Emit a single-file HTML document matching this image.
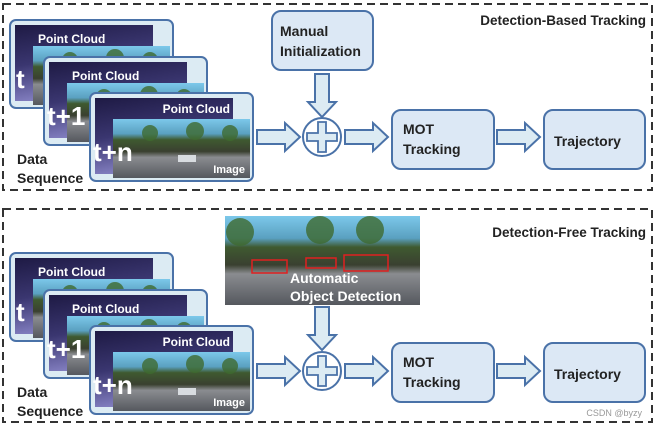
<!DOCTYPE html>
<html><head><style>
html,body{margin:0;padding:0;background:#fff;}
svg{display:block;font-family:"Liberation Sans",sans-serif;}
text{font-weight:bold;}
</style></head><body>
<svg width="658" height="428" viewBox="0 0 658 428" xmlns="http://www.w3.org/2000/svg">
<defs>
<linearGradient id="pc" x1="0" y1="0" x2="0.3" y2="1">
<stop offset="0" stop-color="#1e1a44"/><stop offset="0.5" stop-color="#3a3670"/><stop offset="1" stop-color="#8a86c8"/>
</linearGradient>
<linearGradient id="ph" x1="0" y1="0" x2="0" y2="1">
<stop offset="0" stop-color="#7cc8ea"/><stop offset="0.25" stop-color="#5aa0c0"/><stop offset="0.35" stop-color="#3f5a30"/><stop offset="0.55" stop-color="#3a4030"/><stop offset="0.65" stop-color="#8a8c90"/><stop offset="1" stop-color="#55585e"/>
</linearGradient>
<g id="fr">
<rect x="0" y="0" width="163" height="88" rx="6" fill="#dcebf3" stroke="#4a72a8" stroke-width="2"/>
<rect x="5" y="5" width="138" height="76" fill="url(#pc)"/>
<rect x="23" y="26" width="137" height="59" fill="url(#ph)"/>
<circle cx="60" cy="40" r="8" fill="#3f6a30" opacity="0.8"/><circle cx="105" cy="38" r="9" fill="#3f6a30" opacity="0.8"/><circle cx="140" cy="40" r="8" fill="#3f6a30" opacity="0.8"/>
<rect x="88" y="62" width="18" height="7" fill="#d8dce0"/>
</g>
<g id="arR"><path d="M0,-7 H28 V-14 L43,0 L28,14 V7 H0 Z" fill="#dcebf3" stroke="#4a72a8" stroke-width="2"/></g>
<g id="arD"><path d="M-7,0 V28 H-14 L0,43 L14,28 H7 V0 Z" fill="#dcebf3" stroke="#4a72a8" stroke-width="2"/></g>
<g id="plus"><circle r="19" fill="#fff" stroke="#4a72a8" stroke-width="2"/>
<path d="M-4,-15 H4 V-4 H15 V4 H4 V15 H-4 V4 H-15 V-4 H-4 Z" fill="#dcebf3" stroke="#4a72a8" stroke-width="1.8"/></g>
</defs>

<rect x="3" y="4" width="649" height="186" fill="none" stroke="#333" stroke-width="2" stroke-dasharray="8,5"/>
<rect x="3" y="209" width="649" height="213" fill="none" stroke="#333" stroke-width="2" stroke-dasharray="8,5"/>

<!-- top panel -->
<g transform="translate(10,20)"><use href="#fr"/><text x="28" y="23" fill="#fff" font-size="12">Point Cloud</text><text x="6" y="68" fill="#fff" font-size="26">t</text></g>
<g transform="translate(44,57)"><use href="#fr"/><text x="28" y="23" fill="#fff" font-size="12">Point Cloud</text><text x="3" y="68" fill="#fff" font-size="26">t+1</text></g>
<g transform="translate(90,93)"><use href="#fr"/><text x="140" y="20" fill="#fff" font-size="12" text-anchor="end">Point Cloud</text><text x="3" y="68" fill="#fff" font-size="26">t+n</text><text x="155" y="80" fill="#fff" font-size="11" text-anchor="end">Image</text></g>
<text x="17" y="164" font-size="14" fill="#222">Data</text>
<text x="17" y="183" font-size="14" fill="#222">Sequence</text>

<rect x="272" y="11" width="101" height="59" rx="9" fill="#dce8f5" stroke="#4a72a8" stroke-width="2"/>
<text x="280" y="36" font-size="14" fill="#222">Manual</text>
<text x="280" y="56" font-size="14" fill="#222">Initialization</text>
<g transform="translate(322,74)"><use href="#arD"/></g>
<g transform="translate(257,137)"><use href="#arR"/></g>
<g transform="translate(322,137)"><use href="#plus"/></g>
<g transform="translate(345,137)"><use href="#arR"/></g>
<rect x="392" y="110" width="102" height="59" rx="9" fill="#dce8f5" stroke="#4a72a8" stroke-width="2"/>
<text x="403" y="134" font-size="14" fill="#222">MOT</text>
<text x="403" y="154" font-size="14" fill="#222">Tracking</text>
<g transform="translate(497,137)"><use href="#arR"/></g>
<rect x="544" y="110" width="101" height="59" rx="9" fill="#dce8f5" stroke="#4a72a8" stroke-width="2"/>
<text x="554" y="146" font-size="14" fill="#222">Trajectory</text>
<text x="646" y="25" font-size="13.5" fill="#222" text-anchor="end">Detection-Based Tracking</text>

<!-- bottom panel -->
<g transform="translate(10,253)"><use href="#fr"/><text x="28" y="23" fill="#fff" font-size="12">Point Cloud</text><text x="6" y="68" fill="#fff" font-size="26">t</text></g>
<g transform="translate(44,290)"><use href="#fr"/><text x="28" y="23" fill="#fff" font-size="12">Point Cloud</text><text x="3" y="68" fill="#fff" font-size="26">t+1</text></g>
<g transform="translate(90,326)"><use href="#fr"/><text x="140" y="20" fill="#fff" font-size="12" text-anchor="end">Point Cloud</text><text x="3" y="68" fill="#fff" font-size="26">t+n</text><text x="155" y="80" fill="#fff" font-size="11" text-anchor="end">Image</text></g>
<text x="17" y="397" font-size="14" fill="#222">Data</text>
<text x="17" y="416" font-size="14" fill="#222">Sequence</text>

<rect x="225" y="216" width="195" height="89" fill="url(#ph)"/>
<circle cx="240" cy="232" r="14" fill="#3f6a30" opacity="0.8"/><circle cx="320" cy="230" r="14" fill="#3f6a30" opacity="0.8"/><circle cx="370" cy="230" r="14" fill="#3f6a30" opacity="0.8"/>
<rect x="252" y="260" width="35" height="13" fill="none" stroke="#e02020" stroke-width="1.5"/>
<rect x="306" y="258" width="30" height="10" fill="none" stroke="#e02020" stroke-width="1.5"/>
<rect x="344" y="255" width="44" height="16" fill="none" stroke="#e02020" stroke-width="1.5"/>
<text x="290" y="283" fill="#fff" font-size="14">Automatic</text>
<text x="290" y="301" fill="#fff" font-size="14">Object Detection</text>
<text x="646" y="237" font-size="13.5" fill="#222" text-anchor="end">Detection-Free Tracking</text>

<g transform="translate(322,307)"><use href="#arD"/></g>
<g transform="translate(257,371)"><use href="#arR"/></g>
<g transform="translate(322,371)"><use href="#plus"/></g>
<g transform="translate(345,371)"><use href="#arR"/></g>
<rect x="392" y="343" width="102" height="59" rx="9" fill="#dce8f5" stroke="#4a72a8" stroke-width="2"/>
<text x="403" y="367" font-size="14" fill="#222">MOT</text>
<text x="403" y="387" font-size="14" fill="#222">Tracking</text>
<g transform="translate(497,371)"><use href="#arR"/></g>
<rect x="544" y="343" width="101" height="59" rx="9" fill="#dce8f5" stroke="#4a72a8" stroke-width="2"/>
<text x="554" y="379" font-size="14" fill="#222">Trajectory</text>
<text x="642" y="416" font-size="9" fill="#999" text-anchor="end" style="font-weight:normal">CSDN @byzy</text>
</svg>
</body></html>
